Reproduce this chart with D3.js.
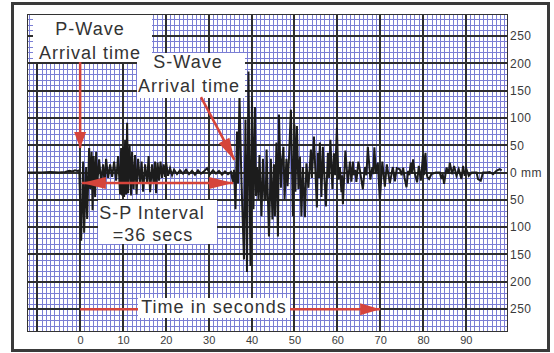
<!DOCTYPE html>
<html>
<head>
<meta charset="utf-8">
<script src="https://cdn.jsdelivr.net/npm/d3@7"></script>
<style>
  body { margin: 0; background: #fff; }
  svg { display: block; font-family: "Liberation Sans", Arial, sans-serif; }
</style>
</head>
<body>
<div id="chart"></div>
<script>
// seismogram trace, [seconds, mm]
const preEvent = [[-12.4,0],[-9,0],[-7,1],[-5,0],[-3.5,1],[-2.5,3],[-1.8,2],[-1.2,4],[-0.6,3],[-0.2,4]];

const pWave = [[0.23,-125],[0.7,20],[0.93,-110],[1.4,10],[1.63,-85],[2.1,45],[2.33,-30],[2.68,38],[2.9,-69],[3.15,30],
  [3.5,-45],[3.73,38],[3.96,-25],[4.43,24],[4.9,-17],[5.36,15],[5.71,-20],[6.06,25],[6.53,-10],[6.99,15],
  [7.46,-8],[7.93,20],[8.39,-15],[8.86,30],[9.32,-40],[9.56,45],[9.79,-42],[10.02,47],[10.26,-45],[10.49,60],
  [10.72,-40],[10.96,91],[11.19,-38],[11.54,50],[11.89,-42],[12.12,38],[12.47,-30],[12.82,32],[13.17,-40],[13.52,25],
  [13.99,-20],[14.34,20],[14.69,-35],[15.15,15],[15.62,-20],[15.97,30],[16.32,-36],[16.78,15],[17.13,-20],[17.48,20],
  [17.72,-38],[18.07,18],[18.41,-15],[18.76,20],[19.11,-10],[19.46,15],[19.81,-8],[20.05,19],[20.51,-6],[20.98,8],
  [21.45,-5],[21.91,5]];

const quietGap = [[22.6,-3],[23.3,4],[24.0,-2],[24.7,5],[25.4,-3],[26.1,3],[26.8,-4],[27.5,4],[28.2,-2],[28.9,2],
  [29.6,8],[30.3,-3],[31.0,4],[31.7,-2],[32.4,3],[33.1,-4],[33.8,2],[34.5,-3],[35.2,1]];

const sWave = [[35.66,-18],[35.9,5],[36.25,-67],[36.6,75],[36.83,-20],[37.18,139],[37.6,-5],[38.23,-159],[38.58,97],[38.93,-182],
  [39.28,185],[39.74,-171],[40.09,137],[40.44,-67],[40.79,120],[41.03,-43],[41.26,10],[41.61,-50],[41.84,32],[42.31,-80],
  [42.66,25],[43.01,-50],[43.3,-49],[43.5,42],[44.06,-117],[44.5,25],[44.87,-86],[45.22,15],[45.45,-80],[45.8,55],
  [46.15,-117],[46.39,106],[46.85,-28],[47.09,20],[47.44,47],[47.7,-49],[48.14,25],[48.4,-25],[48.72,25],[49.18,115],
  [49.65,-80],[50.0,88],[50.23,-35],[50.58,85],[50.93,-30],[51.28,29],[51.63,-80],[51.98,10],[52.45,-82],[52.8,17],
  [53.26,-28],[53.85,42],[54.08,-10],[54.55,66],[55.24,-64],[55.48,36],[55.7,-10],[55.94,55],[56.29,-45],[56.64,47],
  [57.34,-62],[57.81,36],[58.1,-10],[58.39,60],[58.86,-30],[59.21,35],[59.5,-5],[59.91,82],[60.26,-13],[60.61,10],
  [60.96,-36],[61.1,-5],[61.31,-58],[61.89,40],[62.47,-20],[62.94,20],[63.29,-17],[63.64,20],[63.87,-5],[64.2,5],
  [64.45,-17],[64.92,20],[65.2,8],[65.97,-31],[66.43,10],[66.8,-5],[67.13,47],[67.72,-13],[68.18,10],[68.4,-3],
  [68.65,46],[69.0,-2],[69.46,18],[69.93,-50],[70.51,20],[71.1,-26],[71.56,15],[72.26,-20],[72.96,10],[73.43,-16],
  [73.89,8]];

const coda = [[74.59,6],[75.0,-5],[75.36,9],[75.7,-10],[76.15,-27],[76.53,3],[76.8,-5],[77.16,18],[77.4,-2],[77.69,24],
  [78.09,-2],[78.62,-18],[79.02,12],[79.49,-15],[80.02,33],[80.2,-5],[80.58,36],[80.8,0],[81.05,-9],[81.42,-12],
  [81.98,-3],[82.98,0],[83.92,0],[84.31,-12],[84.6,-3],[84.92,-21],[85.48,9],[86.0,-2],[86.25,18],[86.78,-3],
  [87.25,12],[87.81,-6],[88.34,6],[88.97,-12],[89.35,12],[89.74,-6],[90.14,6],[90.68,-6],[91.38,0],[92.5,0],
  [92.84,-12],[93.47,-15],[94.01,0],[94.8,0],[95.57,1],[96.34,-3],[97.13,3],[97.9,6],[98.37,4]];

const xTicks = [0, 10, 20, 30, 40, 50, 60, 70, 80, 90];
const yTicks = [250, 200, 150, 100, 50, 0, -50, -100, -150, -200, -250];

const pArrival = 0, sArrival = 36, timeArrowEnd = 70;

const svgWidth = 554, svgHeight = 353;
const plot = {left: 27, right: 507, top: 14, bottom: 331};
const red = '#d5443b';

let svg = d3.select('#chart')
    .append('svg')
    .attr('width', svgWidth)
    .attr('height', svgHeight);

// scales
let xScale = d3.scaleLinear().domain([-12.4, 99.6]).range([plot.left, plot.right]);
let yScale = d3.scaleLinear().domain([-290, 290]).range([plot.bottom, plot.top]);

// outer frame
svg.append('rect')
    .attr('x', 12.5).attr('y', 3.5)
    .attr('width', 536).attr('height', 347)
    .attr('fill', 'white')
    .attr('stroke', '#3a3a3a')
    .attr('stroke-width', 3);

// graph paper, snapped to whole pixels like the scanned chart
let grid = svg.append('g').attr('shape-rendering', 'crispEdges');
const snap = v => Math.round(v) + 0.5;

grid.selectAll('.vminor')
    .data(d3.range(-12, 100, 1))
    .join('line')
    .attr('x1', d => snap(xScale(d))).attr('x2', d => snap(xScale(d)))
    .attr('y1', plot.top).attr('y2', plot.bottom)
    .attr('stroke', '#7a7ed4')
    .attr('stroke-width', 1);

grid.selectAll('.hminor')
    .data(d3.range(-280, 290, 10))
    .join('line')
    .attr('y1', d => snap(yScale(d))).attr('y2', d => snap(yScale(d)))
    .attr('x1', plot.left).attr('x2', plot.right)
    .attr('stroke', '#7a7ed4')
    .attr('stroke-width', 1);

grid.selectAll('.vmajor')
    .data(d3.range(-10, 100, 10))
    .join('line')
    .attr('x1', d => Math.round(xScale(d))).attr('x2', d => Math.round(xScale(d)))
    .attr('y1', plot.top).attr('y2', plot.bottom)
    .attr('stroke', '#2e2e2e')
    .attr('stroke-width', 2);

grid.selectAll('.hmajor')
    .data(d3.range(-250, 300, 50))
    .join('line')
    .attr('y1', d => Math.round(yScale(d))).attr('y2', d => Math.round(yScale(d)))
    .attr('x1', plot.left).attr('x2', plot.right)
    .attr('stroke', '#2e2e2e')
    .attr('stroke-width', 2);

grid.append('rect')
    .attr('x', plot.left + 0.5).attr('y', plot.top + 0.5)
    .attr('width', plot.right - plot.left).attr('height', plot.bottom - plot.top)
    .attr('fill', 'none')
    .attr('stroke', '#333')
    .attr('stroke-width', 1);

// the trace
let trace = [].concat(preEvent, pWave, quietGap, sWave, coda);

svg.append('path')
    .datum(trace)
    .attr('fill', 'none')
    .attr('stroke', '#1c1c1c')
    .attr('stroke-width', 2)
    .attr('stroke-linejoin', 'miter')
    .attr('d', d3.line().x(d => xScale(d[0])).y(d => yScale(d[1])));

// axes
svg.append('g')
    .attr('transform', `translate(0,${plot.bottom})`)
    .call(d3.axisBottom(xScale).tickValues(xTicks).tickSize(0).tickPadding(5))
    .call(g => g.select('.domain').remove())
    .attr('font-family', '"Liberation Sans", Arial, sans-serif')
    .attr('font-size', 11)
    .selectAll('text')
    .attr('fill', '#3a3a3a');

svg.append('g')
    .attr('transform', `translate(${plot.right},0)`)
    .call(d3.axisRight(yScale).tickValues(yTicks).tickSize(0).tickPadding(3)
        .tickFormat(d => d === 0 ? '0 mm' : Math.abs(d)))
    .call(g => g.select('.domain').remove())
    .attr('font-family', '"Liberation Sans", Arial, sans-serif')
    .attr('font-size', 12)
    .selectAll('text')
    .attr('fill', '#3a3a3a')
    .attr('letter-spacing', 0.5);

// label boxes
let notes = svg.append('g');

const boxes = [
    {x: 33, y: 15, w: 119, h: 47},
    {x: 137, y: 53, w: 108, h: 45},
    {x: 98, y: 200, w: 119, h: 44},
    {x: 138, y: 298, w: 152, h: 20}
];
notes.selectAll('rect')
    .data(boxes)
    .join('rect')
    .attr('x', d => d.x).attr('y', d => d.y)
    .attr('width', d => d.w).attr('height', d => d.h)
    .attr('fill', 'white');

const labels = [
    {text: 'P-Wave', x: 90, y: 35},
    {text: 'Arrival time', x: 90, y: 59},
    {text: 'S-Wave', x: 188, y: 68},
    {text: 'Arrival time', x: 189, y: 92},
    {text: 'S-P Interval', x: 152, y: 219},
    {text: '=36 secs', x: 153, y: 241},
    {text: 'Time in seconds', x: 214, y: 313}
];
notes.selectAll('text')
    .data(labels)
    .join('text')
    .attr('x', d => d.x).attr('y', d => d.y)
    .attr('text-anchor', 'middle')
    .attr('font-size', 18)
    .attr('letter-spacing', 1)
    .attr('fill', '#333')
    .text(d => d.text);

// red arrows
function arrowHead(g, x1, y1, x2, y2, len, half) {
    let a = Math.atan2(y2 - y1, x2 - x1);
    let bx = x2 - len * Math.cos(a), by = y2 - len * Math.sin(a);
    let px = -Math.sin(a) * half, py = Math.cos(a) * half;
    g.append('path')
        .attr('d', `M${x2},${y2}L${bx + px},${by + py}L${bx - px},${by - py}Z`)
        .attr('fill', red);
}

function arrow(x1, y1, x2, y2, len, half, both) {
    let g = svg.append('g');
    g.append('line')
        .attr('x1', x1).attr('y1', y1).attr('x2', x2).attr('y2', y2)
        .attr('stroke', red).attr('stroke-width', 2.5);
    arrowHead(g, x1, y1, x2, y2, len, half);
    if (both) arrowHead(g, x2, y2, x1, y1, len, half);
}

// P arrival
arrow(xScale(pArrival), yScale(202), xScale(pArrival), yScale(45), 16, 6);
// S arrival
arrow(xScale(28.2), yScale(138), xScale(sArrival), yScale(23), 22, 6);
// S-P interval
arrow(xScale(pArrival + 0.4), yScale(-19), xScale(sArrival - 0.3), yScale(-19), 24, 6, true);
// time axis arrow, broken by its label box
svg.append('line')
    .attr('x1', xScale(pArrival)).attr('x2', 138)
    .attr('y1', yScale(-250)).attr('y2', yScale(-250))
    .attr('stroke', red).attr('stroke-width', 2.5);
arrow(290, yScale(-250), xScale(timeArrowEnd), yScale(-250), 20, 6);
</script>
</body>
</html>
